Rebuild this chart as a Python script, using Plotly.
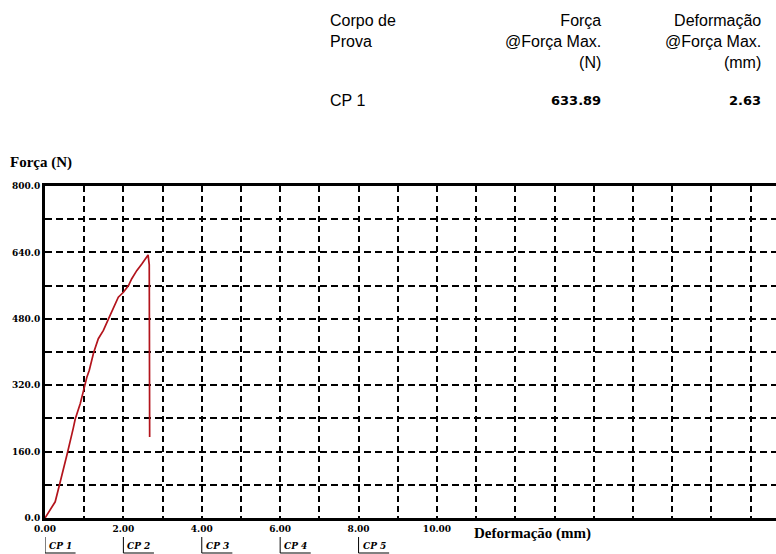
import plotly.graph_objects as go

# ---- data ----
deformacao = [0.00, 0.13, 0.26, 0.37, 0.47, 0.57, 0.72, 0.77, 0.90, 0.98, 1.07, 1.13,
              1.24, 1.36, 1.49, 1.62, 1.75, 1.87, 2.00, 2.13, 2.21, 2.34, 2.47, 2.60,
              2.63, 2.66, 2.67]
forca = [0, 19, 39, 80, 116, 156, 216, 238, 276, 308, 340, 356,
         398, 432, 452, 480, 508, 532, 544, 560, 576, 596, 612, 630,
         633.89, 610, 195]

y_ticks = [0, 160, 320, 480, 640, 800]
y_ticktext = ["0.0", "160.0", "320.0", "480.0", "640.0", "800.0"]
x_label_ticks = [0, 2, 4, 6, 8, 10]
x_grid = list(range(0, 19))
cp_labels = ["CP 1", "CP 2", "CP 3", "CP 4", "CP 5"]
cp_positions = [0, 2, 4, 6, 8]

header_cols = ["Corpo de<br>Prova", "Força<br>@Força Max.<br>(N)", "Deformação<br>@Força Max.<br>(mm)"]
row_values = ["CP 1", "633.89", "2.63"]

X_MAX = 18.65
Y_MAX = 800

fig = go.Figure()
fig.add_trace(go.Scatter(x=deformacao, y=forca, mode="lines",
                         line=dict(color="#b3141c", width=1.7), showlegend=False,
                         hoverinfo="skip"))

x_ticktext = [f"{v:.2f}" if v in x_label_ticks else "" for v in x_grid]
y_grid = list(range(0, 801, 80))
y_tt = [y_ticktext[y_ticks.index(v)] if v in y_ticks else "" for v in y_grid]

fig.update_layout(
    width=776, height=554,
    margin=dict(l=45, r=0, t=186, b=36),
    paper_bgcolor="white", plot_bgcolor="white",
    showlegend=False,
    xaxis=dict(range=[0, X_MAX], tickvals=x_grid, ticktext=x_ticktext,
               showgrid=True, gridcolor="black", gridwidth=2, griddash="6px,4px",
               showline=True, linecolor="black", linewidth=3, mirror=True,
               ticks="", zeroline=False,
               tickfont=dict(family="DejaVu Serif", size=9, color="black", weight="bold")),
    yaxis=dict(range=[0, Y_MAX], tickvals=y_grid, ticktext=y_tt,
               showgrid=True, gridcolor="black", gridwidth=2, griddash="7px,4px",
               showline=True, linecolor="black", linewidth=3,
               ticks="", zeroline=False,
               tickfont=dict(family="DejaVu Serif", size=9, color="black", weight="bold")),
)

ann = []
# axis titles
ann.append(dict(text="<b>Força (N)</b>", xref="paper", yref="paper",
                x=-37 / 731, y=(518 - 162) / 332, xanchor="left", yanchor="middle",
                showarrow=False, font=dict(family="Liberation Serif", size=15, color="black")))
ann.append(dict(text="<b>Deformação (mm)</b>", xref="x", yref="paper",
                x=10.9, y=(518 - 533) / 332, xanchor="left", yanchor="middle",
                showarrow=False, font=dict(family="Liberation Serif", size=15, color="black")))

# header table
hdr_x = [(328 - 45) / 731, (603 - 45) / 731, (763 - 45) / 731]
hdr_anchor = ["left", "right", "right"]
for txt, xp, xa in zip(header_cols, hdr_x, hdr_anchor):
    ann.append(dict(text=txt, xref="paper", yref="paper", x=xp, y=(518 - 10) / 332,
                    xanchor=xa, yanchor="top", align=xa, showarrow=False,
                    font=dict(family="Liberation Sans", size=16, color="black")))
for i, (txt, xp, xa) in enumerate(zip(row_values, hdr_x, hdr_anchor)):
    if i == 0:
        f = dict(family="Liberation Sans", size=16, color="black")
        t = txt
    else:
        f = dict(family="DejaVu Sans", size=13, color="black")
        t = f"<b>{txt}</b>"
    ann.append(dict(text=t, xref="paper", yref="paper", x=xp, y=(518 - 100) / 332,
                    xanchor=xa, yanchor="middle", showarrow=False, font=f))

# CP legend labels
shapes = []
for lab, pos in zip(cp_labels, cp_positions):
    ann.append(dict(text=f"<b><i>{lab}</i></b>", xref="x", yref="paper",
                    x=pos + 0.05, y=(518 - 546) / 332, xanchor="left", yanchor="middle",
                    showarrow=False, font=dict(family="DejaVu Serif", size=9, color="black")))
    shapes.append(dict(type="line", xref="x", yref="paper", x0=pos, x1=pos,
                       y0=(518 - 537) / 332, y1=(518 - 553) / 332,
                       line=dict(color="black", width=1)))
    shapes.append(dict(type="line", xref="x", yref="paper", x0=pos, x1=pos + 0.78,
                       y0=(518 - 553) / 332, y1=(518 - 553) / 332,
                       line=dict(color="black", width=1)))

fig.update_layout(annotations=ann, shapes=shapes)
fig.write_html("out.html", config={"displayModeBar": False},
               post_script="document.body.style.margin='0';document.body.style.padding='0';document.body.style.overflow='hidden';")
